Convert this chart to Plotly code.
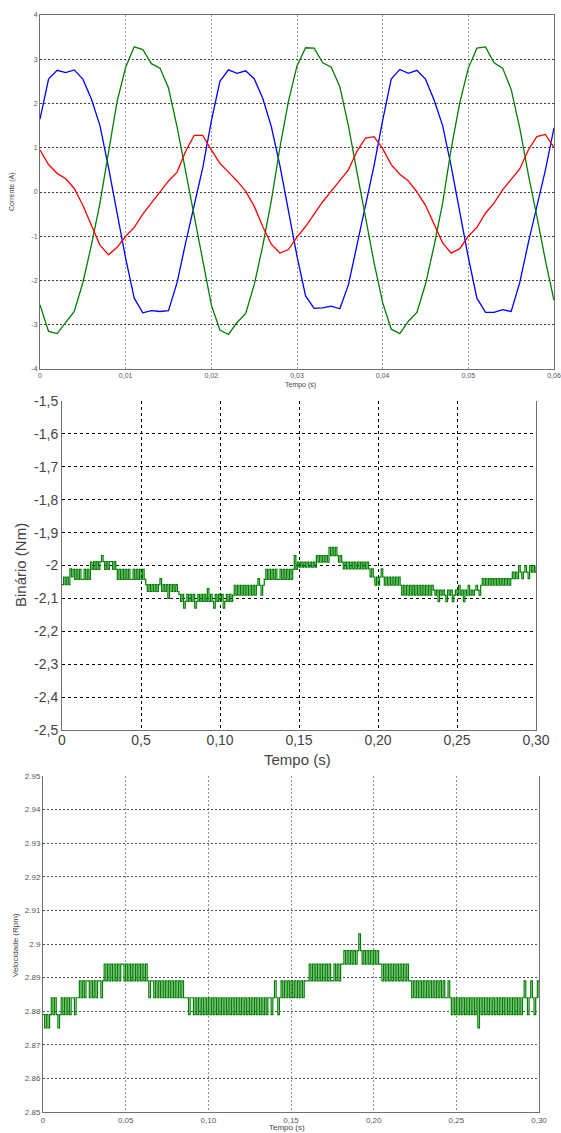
import plotly.graph_objects as go

W, H = 561, 1133

# ---------------- Data ----------------
# Phase currents (A), sampled every 1 ms from 0 to 0.060 s
CUR_STEP = 0.001
current_blue = [
    1.65, 2.55, 2.75, 2.70, 2.76, 2.55, 2.10, 1.50, 0.55, -0.50,
    -1.50, -2.40, -2.73, -2.68, -2.70, -2.68, -2.05, -1.15, -0.30, 0.55,
    1.60, 2.50, 2.76, 2.68, 2.74, 2.56, 2.12, 1.48, 0.60, -0.45,
    -1.45, -2.35, -2.63, -2.62, -2.58, -2.64, -2.10, -1.20, -0.30, 0.60,
    1.62, 2.55, 2.77, 2.68, 2.75, 2.55, 2.08, 1.50, 0.58, -0.48,
    -1.48, -2.40, -2.72, -2.72, -2.66, -2.70, -2.05, -1.15, -0.32, 0.50,
    1.45,
]
current_green = [
    -2.55, -3.15, -3.20, -2.95, -2.70, -2.05, -1.20, -0.25, 0.95, 2.05,
    2.82, 3.28, 3.22, 2.90, 2.80, 2.35, 1.47, 0.45, -0.55, -1.60,
    -2.55, -3.12, -3.22, -2.95, -2.75, -2.10, -1.22, -0.20, 1.00, 2.05,
    2.85, 3.26, 3.25, 2.92, 2.82, 2.38, 1.50, 0.45, -0.55, -1.60,
    -2.50, -3.10, -3.20, -2.92, -2.72, -2.08, -1.22, -0.25, 0.98, 2.02,
    2.80, 3.25, 3.28, 2.92, 2.80, 2.32, 1.45, 0.40, -0.55, -1.55,
    -2.45,
]
current_red = [
    0.95, 0.62, 0.42, 0.30, 0.08, -0.30, -0.75, -1.20, -1.42, -1.25,
    -1.00, -0.80, -0.50, -0.25, 0.00, 0.25, 0.45, 0.92, 1.28, 1.28,
    0.95, 0.65, 0.45, 0.25, 0.02, -0.32, -0.78, -1.18, -1.38, -1.30,
    -1.02, -0.78, -0.50, -0.22, 0.02, 0.25, 0.50, 0.92, 1.22, 1.25,
    0.98, 0.62, 0.40, 0.25, 0.00, -0.30, -0.72, -1.15, -1.38, -1.28,
    -1.00, -0.80, -0.48, -0.25, 0.05, 0.28, 0.52, 0.95, 1.25, 1.30,
    1.00,
]

# Torque (Nm), sampled every 1 ms from 0 to 0.300 s
TORQUE_STEP = 0.001
torque = [
    -2.058, -2.035, -2.058, -2.035, -2.058, -2.010, -2.035, -2.012, -2.042, -2.012,
    -2.042, -2.012, -2.042, -2.042, -2.012, -2.042, -2.012, -2.042, -1.990, -2.012,
    -1.988, -2.012, -1.988, -2.012, -1.988, -1.970, -1.988, -2.012, -1.988, -2.012,
    -1.988, -1.988, -2.012, -1.988, -2.012, -2.042, -2.012, -2.042, -2.012, -2.042,
    -2.012, -2.042, -2.012, -2.042, -2.042, -2.012, -2.042, -2.012, -2.042, -2.012,
    -2.042, -2.012, -2.042, -2.058, -2.079, -2.058, -2.079, -2.058, -2.079, -2.058,
    -2.079, -2.058, -2.040, -2.079, -2.058, -2.079, -2.058, -2.100, -2.058, -2.079,
    -2.058, -2.079, -2.058, -2.079, -2.088, -2.109, -2.088, -2.130, -2.109, -2.088,
    -2.109, -2.088, -2.109, -2.088, -2.130, -2.109, -2.088, -2.109, -2.088, -2.109,
    -2.088, -2.109, -2.070, -2.109, -2.088, -2.109, -2.130, -2.088, -2.109, -2.088,
    -2.109, -2.088, -2.130, -2.109, -2.088, -2.109, -2.088, -2.109, -2.090, -2.060,
    -2.090, -2.060, -2.090, -2.060, -2.090, -2.060, -2.090, -2.060, -2.090, -2.060,
    -2.090, -2.060, -2.090, -2.060, -2.040, -2.060, -2.090, -2.060, -2.042, -2.012,
    -2.042, -2.012, -2.042, -2.012, -2.042, -2.012, -2.042, -2.042, -2.012, -2.042,
    -2.012, -2.042, -2.012, -2.042, -2.012, -2.042, -2.012, -1.970, -2.012, -1.990,
    -2.005, -1.990, -2.005, -1.990, -2.005, -1.990, -2.005, -1.990, -2.005, -1.990,
    -2.005, -1.970, -1.990, -1.970, -1.990, -1.970, -1.990, -1.970, -1.990, -1.945,
    -1.970, -1.945, -1.970, -1.945, -1.970, -1.990, -1.970, -1.990, -2.010, -1.990,
    -2.010, -1.990, -2.010, -1.990, -2.010, -1.990, -2.010, -1.990, -2.010, -1.990,
    -2.010, -1.990, -2.010, -1.990, -2.010, -2.035, -2.010, -2.035, -2.060, -2.035,
    -2.060, -2.035, -2.010, -2.035, -2.060, -2.035, -2.060, -2.035, -2.060, -2.035,
    -2.060, -2.035, -2.060, -2.035, -2.060, -2.090, -2.060, -2.090, -2.060, -2.090,
    -2.060, -2.090, -2.060, -2.090, -2.060, -2.090, -2.060, -2.090, -2.060, -2.090,
    -2.060, -2.090, -2.060, -2.090, -2.060, -2.075, -2.090, -2.075, -2.110, -2.075,
    -2.090, -2.075, -2.090, -2.110, -2.075, -2.090, -2.075, -2.110, -2.090, -2.075,
    -2.090, -2.060, -2.090, -2.075, -2.110, -2.075, -2.090, -2.060, -2.090, -2.075,
    -2.090, -2.075, -2.060, -2.075, -2.090, -2.060, -2.040, -2.060, -2.040, -2.060,
    -2.040, -2.060, -2.040, -2.060, -2.040, -2.060, -2.040, -2.060, -2.040, -2.060,
    -2.040, -2.060, -2.040, -2.060, -2.040, -2.020, -2.040, -2.020, -2.040, -2.000,
    -2.020, -2.040, -2.020, -2.000, -2.020, -2.040, -2.000, -2.020, -2.000, -2.020,
    -2.000,
]

# Speed, sampled every 1 ms from 0 to 0.300 s
SPEED_STEP = 0.001
speed = [
    2.879, 2.875, 2.879, 2.875, 2.879, 2.884, 2.879, 2.884, 2.879, 2.875,
    2.879, 2.884, 2.879, 2.884, 2.879, 2.884, 2.879, 2.884, 2.884, 2.879,
    2.884, 2.884, 2.889, 2.884, 2.889, 2.884, 2.889, 2.889, 2.884, 2.889,
    2.884, 2.889, 2.884, 2.889, 2.889, 2.884, 2.889, 2.894, 2.889, 2.894,
    2.889, 2.894, 2.889, 2.894, 2.889, 2.894, 2.889, 2.894, 2.894, 2.889,
    2.894, 2.889, 2.894, 2.889, 2.894, 2.889, 2.894, 2.889, 2.894, 2.889,
    2.894, 2.889, 2.894, 2.889, 2.884, 2.889, 2.889, 2.884, 2.889, 2.884,
    2.889, 2.884, 2.889, 2.884, 2.889, 2.884, 2.889, 2.884, 2.889, 2.884,
    2.889, 2.884, 2.889, 2.884, 2.889, 2.884, 2.884, 2.884, 2.879, 2.884,
    2.884, 2.879, 2.884, 2.879, 2.884, 2.879, 2.884, 2.879, 2.884, 2.879,
    2.884, 2.879, 2.884, 2.879, 2.884, 2.879, 2.884, 2.879, 2.884, 2.879,
    2.884, 2.879, 2.884, 2.879, 2.884, 2.879, 2.884, 2.879, 2.884, 2.879,
    2.884, 2.879, 2.884, 2.879, 2.884, 2.879, 2.884, 2.879, 2.884, 2.879,
    2.884, 2.879, 2.884, 2.879, 2.884, 2.879, 2.884, 2.884, 2.879, 2.884,
    2.889, 2.884, 2.879, 2.884, 2.889, 2.884, 2.889, 2.884, 2.889, 2.884,
    2.889, 2.884, 2.889, 2.884, 2.889, 2.884, 2.889, 2.884, 2.889, 2.889,
    2.889, 2.894, 2.889, 2.894, 2.889, 2.894, 2.889, 2.894, 2.889, 2.894,
    2.889, 2.894, 2.889, 2.894, 2.889, 2.889, 2.894, 2.889, 2.894, 2.889,
    2.894, 2.894, 2.898, 2.894, 2.898, 2.894, 2.898, 2.894, 2.898, 2.894,
    2.898, 2.903, 2.898, 2.894, 2.898, 2.894, 2.898, 2.894, 2.898, 2.894,
    2.898, 2.894, 2.898, 2.894, 2.894, 2.889, 2.894, 2.889, 2.894, 2.889,
    2.894, 2.889, 2.894, 2.889, 2.894, 2.889, 2.894, 2.889, 2.894, 2.889,
    2.894, 2.889, 2.889, 2.884, 2.889, 2.884, 2.889, 2.884, 2.889, 2.884,
    2.889, 2.884, 2.889, 2.884, 2.889, 2.884, 2.889, 2.884, 2.889, 2.884,
    2.889, 2.884, 2.889, 2.884, 2.884, 2.889, 2.884, 2.879, 2.884, 2.879,
    2.884, 2.879, 2.884, 2.879, 2.884, 2.879, 2.884, 2.879, 2.884, 2.879,
    2.884, 2.879, 2.884, 2.875, 2.884, 2.879, 2.884, 2.879, 2.884, 2.879,
    2.884, 2.879, 2.884, 2.879, 2.884, 2.879, 2.884, 2.879, 2.884, 2.879,
    2.884, 2.879, 2.884, 2.879, 2.884, 2.879, 2.884, 2.879, 2.884, 2.879,
    2.884, 2.889, 2.884, 2.879, 2.884, 2.889, 2.884, 2.879, 2.884, 2.889,
    2.884,
]

# Tick labels
top_xticks = [0, 0.01, 0.02, 0.03, 0.04, 0.05, 0.06]
top_xlabels = ["0", "0,01", "0,02", "0,03", "0,04", "0,05", "0,06"]
top_yticks = [-4, -3, -2, -1, 0, 1, 2, 3, 4]
top_ylabels = ["-4", "-3", "-2", "-1", "0", "1", "2", "3", "4"]

mid_xticks = [0, 0.05, 0.10, 0.15, 0.20, 0.25, 0.30]
mid_xlabels = ["0", "0,5", "0,10", "0,15", "0,20", "0,25", "0,30"]
mid_yticks = [-2.5, -2.4, -2.3, -2.2, -2.1, -2.0, -1.9, -1.8, -1.7, -1.6, -1.5]
mid_ylabels = ["-2,5", "-2,4", "-2,3", "-2,2", "-2,1", "-2", "-1,9", "-1,8", "-1,7", "-1,6", "-1,5"]

bot_xticks = [0, 0.05, 0.10, 0.15, 0.20, 0.25, 0.30]
bot_xlabels = ["0", "0,05", "0,10", "0,15", "0,20", "0,25", "0,30"]
bot_yticks = [2.85, 2.86, 2.87, 2.88, 2.89, 2.90, 2.91, 2.92, 2.93, 2.94, 2.95]
bot_ylabels = ["2.85", "2.86", "2.87", "2.88", "2.89", "2.9", "2.91", "2.92", "2.93", "2.94", "2.95"]

# ---------------- Figure ----------------
t_cur = [round(i * CUR_STEP, 4) for i in range(len(current_blue))]
t_tq = [round(i * TORQUE_STEP, 4) for i in range(len(torque))]
t_sp = [round(i * SPEED_STEP, 4) for i in range(len(speed))]

FONT = "Liberation Sans, Arial, sans-serif"
fig = go.Figure()

fig.add_trace(go.Scatter(x=t_cur, y=current_blue, mode="lines", line=dict(color="#0000ff", width=1.3), xaxis="x", yaxis="y"))
fig.add_trace(go.Scatter(x=t_cur, y=current_green, mode="lines", line=dict(color="#008000", width=1.3), xaxis="x", yaxis="y"))
fig.add_trace(go.Scatter(x=t_cur, y=current_red, mode="lines", line=dict(color="#ff0000", width=1.3), xaxis="x", yaxis="y"))
fig.add_trace(go.Scatter(x=t_tq, y=torque, mode="lines", line=dict(color="#008000", width=1.2, shape="hv"), xaxis="x2", yaxis="y2"))
fig.add_trace(go.Scatter(x=t_sp, y=speed, mode="lines", line=dict(color="#008000", width=1.2, shape="hv"), xaxis="x3", yaxis="y3"))


def px_x(p):
    return p / W


def px_y(p):
    return 1 - p / H


def ax(domain, rng, tickvals, ticktext, size, color, gridcolor, griddash, mirror, anchor, standoff=0):
    return dict(
        domain=domain, range=rng, tickvals=tickvals, ticktext=ticktext,
        tickfont=dict(size=size, color=color, family=FONT),
        showline=True, linecolor="#707070", linewidth=1, mirror=mirror,
        showgrid=True, gridcolor=gridcolor, griddash=griddash, gridwidth=1,
        zeroline=False, ticks="", anchor=anchor, fixedrange=True,
        automargin=False, ticklabelstandoff=standoff,
    )


fig.update_layout(
    template="none",
    width=W, height=H, margin=dict(l=0, r=0, t=0, b=0, pad=0), autosize=False,
    paper_bgcolor="white", plot_bgcolor="white", showlegend=False,
    font=dict(family=FONT),
    xaxis=ax([px_x(40), px_x(554)], [0, 0.06], top_xticks, top_xlabels, 7, "#555", "#a0a0a0", "2px,2px", True, "y"),
    yaxis=ax([px_y(369), px_y(15)], [-4, 4], top_yticks, top_ylabels, 7, "#555", "#404040", "2px,2px", True, "x"),
    xaxis2=ax([px_x(62), px_x(536)], [0, 0.30], mid_xticks, mid_xlabels, 14, "#444", "#000000", "3px,3px", False, "y2", -3),
    yaxis2=ax([px_y(730), px_y(401)], [-2.5, -1.5], mid_yticks, mid_ylabels, 14, "#444", "#000000", "3px,3px", True, "x2"),
    xaxis3=ax([px_x(43), px_x(539)], [0, 0.30], bot_xticks, bot_xlabels, 8, "#555", "#909090", "2px,2px", False, "y3"),
    yaxis3=ax([px_y(1112), px_y(776)], [2.85, 2.95], bot_yticks, bot_ylabels, 8, "#555", "#505050", "2px,2px", True, "x3"),
)

annotations = [
    dict(text="Corrente (A)", x=px_x(12), y=px_y(192), textangle=-90, size=7),
    dict(text="Tempo (s)", x=px_x(300), y=px_y(385), textangle=0, size=7),
    dict(text="Binário (Nm)", x=px_x(20), y=px_y(565), textangle=-90, size=15),
    dict(text="Tempo (s)", x=px_x(297), y=px_y(759), textangle=0, size=15),
    dict(text="Velocidade (Rpm)", x=px_x(15), y=px_y(945), textangle=-90, size=8),
    dict(text="Tempo (s)", x=px_x(287), y=px_y(1127), textangle=0, size=8),
]
fig.update_layout(annotations=[
    dict(text=a["text"], x=a["x"], y=a["y"], xref="paper", yref="paper",
         xanchor="center", yanchor="middle", showarrow=False, textangle=a["textangle"],
         font=dict(size=a["size"], color="#444", family=FONT))
    for a in annotations
])

fig.write_html("out.html", config={"responsive": False})
